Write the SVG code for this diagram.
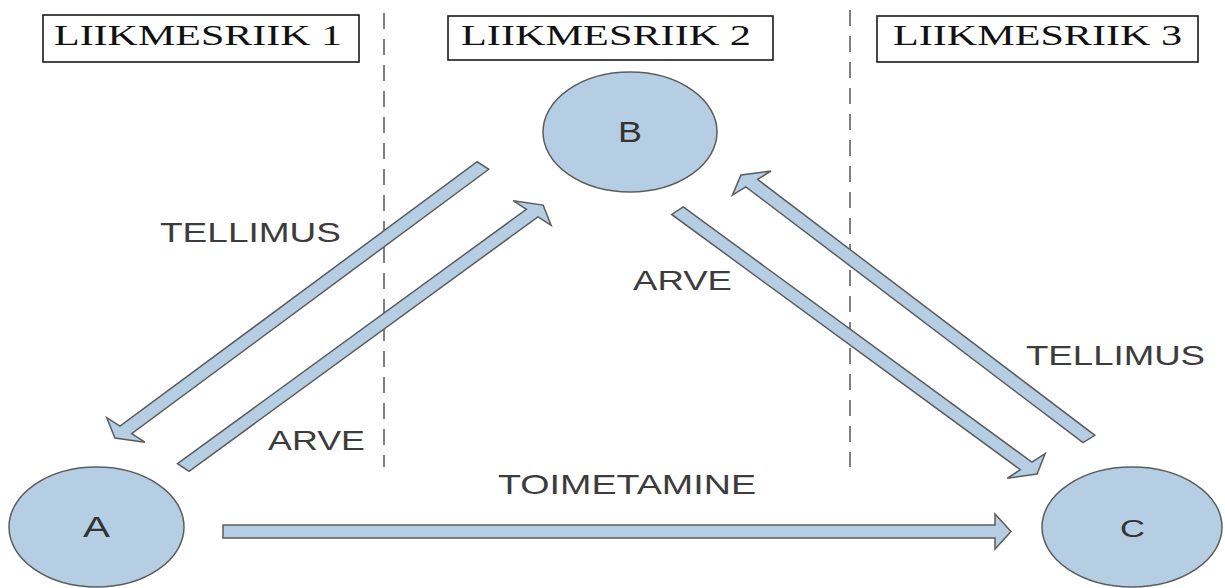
<svg xmlns="http://www.w3.org/2000/svg" width="1225" height="588" viewBox="0 0 1225 588">
<style>
.hdr{fill:#fff;stroke:#1a1a1a;stroke-width:1.6}
.hdrt{font-family:"Liberation Serif",serif;font-size:29px;fill:#111}
.node{fill:#b5cee3;stroke:#5c5c5c;stroke-width:1.5}
.nt{font-family:"Liberation Sans",Arial,sans-serif;fill:#333}
.lbl{font-family:"Liberation Sans",Arial,sans-serif;font-size:28px;fill:#3c3c3c}
.arr{fill:#b5cee3;stroke:#5c5c5c;stroke-width:1.5;stroke-linejoin:miter}
.div{stroke:#555;stroke-width:1.5;stroke-dasharray:16 10;fill:none}
</style>
<defs>
<polygon id="darr" points="0,-5.5 -11,-5.5 -11,-18 0,0 -11,18 -11,5.5" />
</defs>
<rect width="1225" height="588" fill="#fff"/>
<g id="dividers">
<line class="div" x1="384" y1="13" x2="384" y2="467"/>
<line class="div" x1="850" y1="10" x2="850" y2="467"/>
</g>
<g id="header1"><rect class="hdr" x="43" y="15" width="316" height="47"/><text class="hdrt" x="54" y="45" textLength="288" lengthAdjust="spacingAndGlyphs">LIIKMESRIIK 1</text></g>
<g id="header2"><rect class="hdr" x="448" y="16" width="325" height="44"/><text class="hdrt" x="461" y="45" textLength="290" lengthAdjust="spacingAndGlyphs">LIIKMESRIIK 2</text></g>
<g id="header3"><rect class="hdr" x="877" y="16" width="321" height="46"/><text class="hdrt" x="893" y="45" textLength="289" lengthAdjust="spacingAndGlyphs">LIIKMESRIIK 3</text></g>
<g id="connectors">
<g transform="scale(1.45 1)">
<polygon class="arr" vector-effect="non-scaling-stroke" transform="translate(333.1 165.5) rotate(132.97)" points="0,-5.5 361.4,-5.5 361.4,-18 372.4,0 361.4,18 361.4,5.5 0,5.5"/>
<polygon class="arr" vector-effect="non-scaling-stroke" transform="translate(126.4 467.5) rotate(-46.6)" points="0,-5.5 350.2,-5.5 350.2,-18 361.2,0 350.2,18 350.2,5.5 0,5.5"/>
<polygon class="arr" vector-effect="non-scaling-stroke" transform="translate(467.2 210.7) rotate(46.71)" points="0,-5.5 350.7,-5.5 350.7,-18 361.7,0 350.7,18 350.7,5.5 0,5.5"/>
<polygon class="arr" vector-effect="non-scaling-stroke" transform="translate(751 439) rotate(-132.27)" points="0,-5.5 345.8,-5.5 345.8,-18 356.8,0 345.8,18 345.8,5.5 0,5.5"/>
</g>
<polygon class="arr" points="223,525 995,525 995,514 1011,531.5 995,549 995,538 223,538"/>
</g>
<g id="labels">
<text class="lbl" x="160" y="242" textLength="181" lengthAdjust="spacingAndGlyphs">TELLIMUS</text>
<text class="lbl" x="268" y="450" textLength="97" lengthAdjust="spacingAndGlyphs">ARVE</text>
<text class="lbl" x="633" y="290" textLength="99" lengthAdjust="spacingAndGlyphs">ARVE</text>
<text class="lbl" x="1026" y="365" textLength="179" lengthAdjust="spacingAndGlyphs">TELLIMUS</text>
<text class="lbl" x="498" y="494" textLength="258" lengthAdjust="spacingAndGlyphs">TOIMETAMINE</text>
</g>
<g id="nodeA"><ellipse class="node" cx="96.5" cy="527" rx="87.5" ry="60"/><text class="nt" x="96.5" y="537" font-size="30" text-anchor="middle" textLength="27" lengthAdjust="spacingAndGlyphs">A</text></g>
<g id="nodeB"><ellipse class="node" cx="630" cy="132" rx="87" ry="60"/><text class="nt" x="630" y="142" font-size="30" text-anchor="middle" textLength="24" lengthAdjust="spacingAndGlyphs">B</text></g>
<g id="nodeC"><ellipse class="node" cx="1132" cy="527" rx="90" ry="60"/><text class="nt" x="1132.5" y="537" font-size="24" text-anchor="middle" textLength="25" lengthAdjust="spacingAndGlyphs">C</text></g>
</svg>
